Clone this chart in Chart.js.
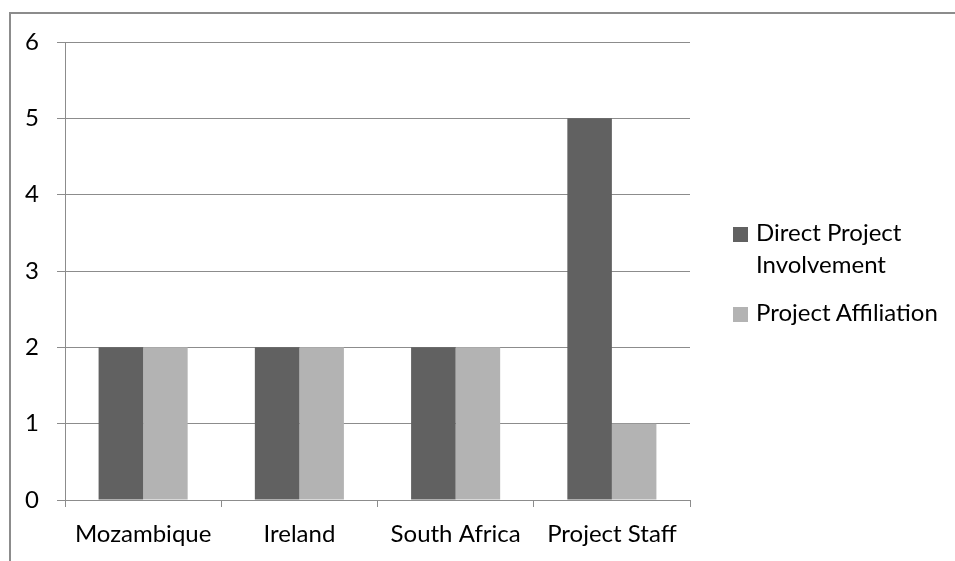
<!DOCTYPE html>
<html>
<head>
<meta charset="utf-8">
<script src="https://cdn.jsdelivr.net/npm/chart.js@4"></script>
<style>
  html, body { margin: 0; padding: 0; background: #fff; overflow: hidden; }
  #wrap { position: relative; width: 955px; height: 561px; }
  #frame { position: absolute; left: 9px; top: 12px; width: 1000px; height: 600px; border: 2px solid #8c8c8c; }
  canvas { position: absolute; left: 0; top: 0; }
  .item { position: absolute; left: 733px; font-family: Lato, sans-serif; font-size: 24px; line-height: 32px; color: #000; }
  .item .box { position: absolute; left: 0; width: 15px; height: 15px; }
  .item .txt { position: absolute; left: 23px; white-space: pre; }
</style>
</head>
<body>
<div id="wrap">
  <div id="frame"></div>
  <canvas id="chart" width="955" height="561"></canvas>
  <div id="legend"></div>
</div>
<script>
// categorías y valores
const categories = ["Mozambique", "Ireland", "South Africa", "Project Staff"];
const directInvolvement = [2, 2, 2, 5];
const projectAffiliation = [2, 2, 2, 1];
const yTicks = [0, 1, 2, 3, 4, 5, 6];

const seriesNames = ["Direct Project\nInvolvement", "Project Affiliation"];
const seriesColors = ["#616161", "#b3b3b3"];

const axisColor = "#8c8c8c";
const font = { family: "Lato, sans-serif", size: 24 };

const ctx = document.getElementById("chart").getContext("2d");
const chart = new Chart(ctx, {
  type: "bar",
  data: {
    labels: categories,
    datasets: [
      { label: seriesNames[0], data: directInvolvement, backgroundColor: seriesColors[0] },
      { label: seriesNames[1], data: projectAffiliation, backgroundColor: seriesColors[1] }
    ]
  },
  options: {
    responsive: false,
    animation: false,
    layout: { padding: { left: 0, top: 42, right: 265, bottom: 0 } },
    datasets: { bar: { categoryPercentage: 0.57, barPercentage: 1 } },
    plugins: { legend: { display: false }, tooltip: { enabled: false } },
    scales: {
      x: {
        grid: { offset: true, drawOnChartArea: false, drawTicks: true, tickLength: 7, color: axisColor },
        border: { display: true, color: axisColor },
        ticks: { color: "#000", font: font, padding: 13 },
        afterFit: s => { s.height = 61; }
      },
      y: {
        min: 0,
        max: 6,
        afterBuildTicks: s => { s.ticks = yTicks.map(v => ({ value: v })); },
        grid: { color: axisColor, tickLength: 8 },
        border: { display: true, color: axisColor },
        ticks: { color: "#000", font: font, padding: 18 },
        afterFit: s => { s.width = 65; }
      }
    }
  }
});

// leyenda HTML (permite texto en dos líneas)
const legend = document.getElementById("legend");
const itemTops = [216, 296];
chart.data.datasets.forEach((ds, i) => {
  const item = document.createElement("div");
  item.className = "item";
  item.style.top = itemTops[i] + "px";
  item.innerHTML = `<div class="box" style="top:11px;background:${ds.backgroundColor}"></div><div class="txt">${ds.label}</div>`;
  legend.appendChild(item);
});
</script>
</body>
</html>
